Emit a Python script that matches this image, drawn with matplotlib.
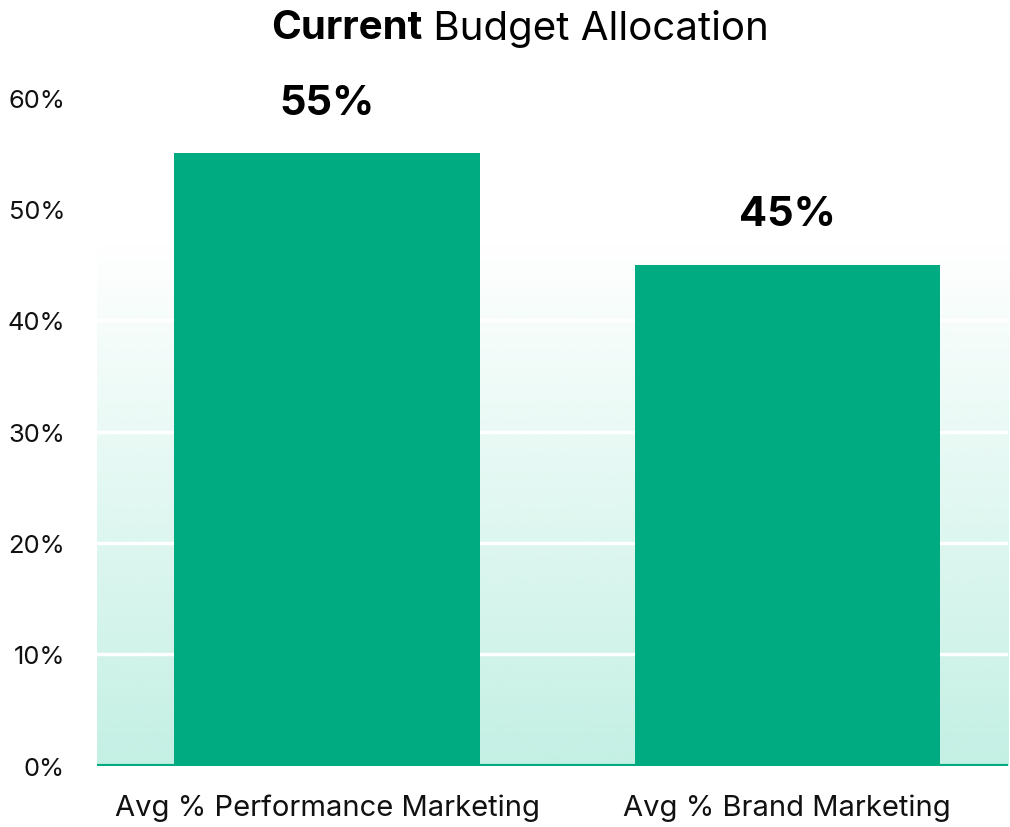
import matplotlib
matplotlib.use("Agg")
import matplotlib.pyplot as plt
import numpy as np
from matplotlib.colors import to_rgb

plt.rcParams['font.family'] = ['Inter', 'DejaVu Sans']

categories = ["Avg % Performance Marketing", "Avg % Brand Marketing"]
values = [55, 45]
yticks = [0, 10, 20, 30, 40, 50, 60]
ytick_labels = ["0%", "10%", "20%", "30%", "40%", "50%", "60%"]
title_bold = "Current"
title_rest = " Budget Allocation"

bar_color = "#00AB82"
fig = plt.figure(figsize=(10.10, 8.28), dpi=100)
ax = fig.add_axes([0.096, 0.074, 0.902, 0.807])

x = np.arange(len(categories))
ax.set_xlim(-0.5, 1.48)
ax.set_ylim(0, 60)

# gradient background
grad_top = 47
n = 256
rgb = np.array(to_rgb("#C4F0E4"))
img = np.zeros((n, 1, 4))
img[:, 0, :3] = rgb
img[:, 0, 3] = np.linspace(1, 0, n)
ax.imshow(img, extent=[-0.5, 1.48, 0, grad_top], origin='lower', aspect='auto', zorder=0,
          interpolation='bilinear')

for t in yticks[1:-1]:
    ax.axhline(t, color='white', lw=2.5, zorder=1)

ax.bar(x, values, width=0.663, color=bar_color, zorder=2)
ax.axhline(0, color=bar_color, lw=3, zorder=3)

for xi, v in zip(x, values):
    ax.text(xi, v + 2.8, f"{v}%", ha='center', va='bottom', fontsize=30, fontweight='bold', color='black')

ax.set_yticks(yticks)
ax.set_yticklabels(ytick_labels, fontsize=18.4, color='#111111')
ax.set_xticks(x)
ax.set_xticklabels(categories, fontsize=21, color='#111111')
ax.tick_params(length=0)
ax.tick_params(axis='y', pad=23)
ax.tick_params(axis='x', pad=20)
for s in ax.spines.values():
    s.set_visible(False)

# title with bold first word
fig.canvas.draw()
r = fig.canvas.get_renderer()
t1 = fig.text(0, 0.965, title_bold, fontsize=29, fontweight='bold', va='center', ha='left')
t2 = fig.text(0, 0.965, title_rest, fontsize=29, va='center', ha='left')
w1 = t1.get_window_extent(r).width / fig.bbox.width
w2 = t2.get_window_extent(r).width / fig.bbox.width
start = 0.5148 - (w1 + w2) / 2
t1.set_x(start)
t2.set_x(start + w1)

fig.savefig("out.png", dpi=100, facecolor='white')
